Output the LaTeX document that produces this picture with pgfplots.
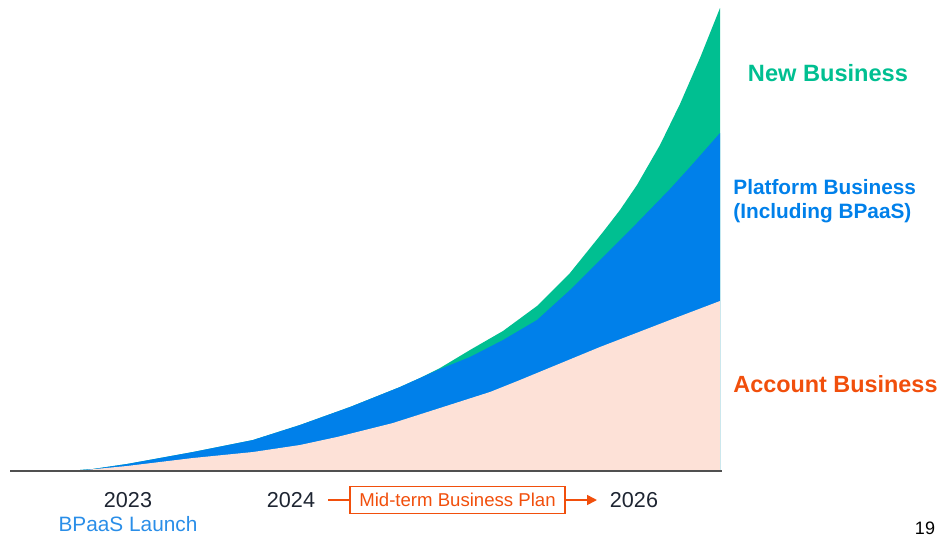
\documentclass[border=0pt]{standalone}
\usepackage{pgfplots}
\pgfplotsset{compat=1.18}
\usetikzlibrary{arrows.meta}
\usepackage{fontspec}
\setmainfont{Liberation Sans}
\definecolor{cGreen}{RGB}{0,191,145}
\definecolor{cBlue}{RGB}{0,128,234}
\definecolor{cPeach}{RGB}{253,225,215}
\definecolor{cOrange}{RGB}{241,79,12}
\definecolor{cLaunch}{RGB}{42,142,232}
\definecolor{cYear}{RGB}{30,37,50}
\definecolor{cBase}{RGB}{80,80,80}
\begin{document}
\begin{tikzpicture}
\begin{axis}[scale only axis, width=469.5pt, height=267pt,
  xmin=0, xmax=939, ymin=0, ymax=534, hide axis, clip=false]
\path (axis cs:0,0) rectangle (axis cs:939,534);
% New Business (top of stack)
\addplot[fill=cGreen, draw=none] coordinates {
 (80,64) (93,65) (127,70) (160,76) (193,82) (253,94) (300,109) (350,127) (400,147)
 (420,156) (440,166) (470,184) (503,203) (537,228) (570,261) (603,302)
 (620,324) (637,349) (660,389) (680,430) (700,476) (720,526) (720,64)};
% Platform Business
\addplot[fill=cBlue, draw=none] coordinates {
 (80,64) (93,65) (127,70) (160,76) (193,82) (253,94) (300,109) (350,127) (400,147)
 (420,156) (440,165) (470,177) (503,194) (537,214) (570,244) (603,277)
 (637,311) (670,345) (690,367) (720,401) (720,64)};
% Account Business
\addplot[fill=cPeach, draw=none] coordinates {
 (80,63.5) (127,68) (160,72) (193,76) (253,82) (300,89) (337,97) (393,111)
 (440,126) (490,142) (520,154) (600,187) (670,214) (720,233) (720,64)};
% baseline
\addplot[cBase, line width=1pt] coordinates {(10,63) (722,63)};
% right labels
\node[cGreen, font=\fontsize{11.8}{14}\selectfont\bfseries] at (axis cs:828,461) {New Business};
\node[cBlue, font=\fontsize{10.4}{13}\selectfont\bfseries, anchor=west, align=left, inner sep=0pt] at (axis cs:733,333) {Platform Business\\[-1pt](Including BPaaS)};
\node[cOrange, font=\fontsize{11.7}{14}\selectfont\bfseries, anchor=west, inner sep=0pt] at (axis cs:733,150) {Account Business};
% bottom labels
\node[cYear, font=\fontsize{10.8}{13}\selectfont] at (axis cs:128,33.5) {2023};
\node[cLaunch, font=\fontsize{10.4}{13}\selectfont] at (axis cs:128,10) {BPaaS Launch};
\node[cYear, font=\fontsize{10.8}{13}\selectfont] at (axis cs:291,33.5) {2024};
\node[cYear, font=\fontsize{10.8}{13}\selectfont] at (axis cs:634,33.5) {2026};
\draw[cOrange, line width=0.8pt] (axis cs:328,34) -- (axis cs:350,34);
\node[draw=cOrange, line width=0.7pt, text=cOrange, minimum width=107.5pt, minimum height=13.5pt, inner sep=0pt, font=\fontsize{9.3}{11}\selectfont] at (axis cs:457.5,34) {Mid-term Business Plan};
\draw[cOrange, line width=0.8pt, -{Triangle[length=5pt,width=5pt]}] (axis cs:565,34) -- (axis cs:597,34);
\node[overlay, black, font=\fontsize{9}{11}\selectfont, anchor=north, inner sep=0pt] at (axis cs:925,12) {19};
\end{axis}
\end{tikzpicture}
\end{document}
